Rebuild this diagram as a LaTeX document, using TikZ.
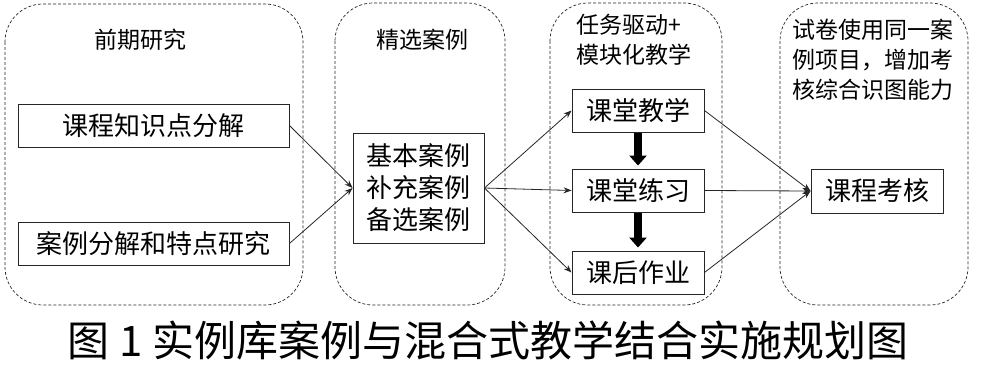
\documentclass[tikz,border=0pt]{standalone}
\usepackage{fontspec}
\setmainfont{Noto Sans CJK SC}
\usetikzlibrary{arrows.meta}

\begin{document}
\begin{tikzpicture}[x=1pt,y=-1pt,>={Stealth[length=8pt,width=6pt]},
  grp/.style={draw=black!85,dash pattern=on 3pt off 2pt,line width=0.7pt,rounded corners=38pt},
  title/.style={font=\fontsize{23}{30}\selectfont,align=left,inner sep=0pt},
  box/.style={draw=black!85,line width=0.9pt,fill=white,font=\fontsize{26}{32}\selectfont,align=center,minimum height=43pt,inner sep=2pt},
  link/.style={->,line width=0.8pt,black!85},
  push/.style={-{Triangle[width=17pt,length=10pt]},line width=7.5pt,shorten >=3pt,shorten <=1pt}]
\useasboundingbox (0,0) rectangle (981,366);
% groups
\draw[grp] (5,4) rectangle (303,305);
\draw[grp] (335,3) rectangle (505,305);
\draw[grp] (550,3) rectangle (722,305);
\draw[grp] (780,3) rectangle (968,305);
\node[title] (t-res) at (140,40) {前期研究};
\node[title] (t-sel) at (422,40) {精选案例};
\node[title] (t-teach) at (634,40) {任务驱动+\\模块化教学};
\node[title] (t-exam) at (873,60) {试卷使用同一案\\例项目，增加考\\核综合识图能力};
% boxes
\node[box,minimum width=271pt] (know) at (153.5,125.5) {课程知识点分解};
\node[box,minimum width=271pt] (study) at (153.5,243.5) {案例分解和特点研究};
\node[box,minimum width=131pt,minimum height=110pt] (cases) at (418.5,188) {基本案例\\补充案例\\备选案例};
\node[box,minimum width=132pt] (lect) at (638,110.5) {课堂教学};
\node[box,minimum width=132pt] (prac) at (638,190.5) {课堂练习};
\node[box,minimum width=132pt] (home) at (638,272.5) {课后作业};
\node[box,minimum width=132pt,minimum height=44pt] (exam) at (877,191) {课程考核};
% links
\foreach \a in {know,study}{\draw[link] (\a.east) -- (cases.west);}
\foreach \b in {lect,prac,home}{\draw[link] (cases.east) -- (\b.west);
  \draw[link] (\b.east) -- (exam.west);}
\draw[push] (lect.south) -- (prac.north);
\draw[push] (prac.south) -- (home.north);
% caption
\node[font=\fontsize{42}{46}\selectfont] (cap) at (488,340) {图 1 实例库案例与混合式教学结合实施规划图};
\end{tikzpicture}
\end{document}
